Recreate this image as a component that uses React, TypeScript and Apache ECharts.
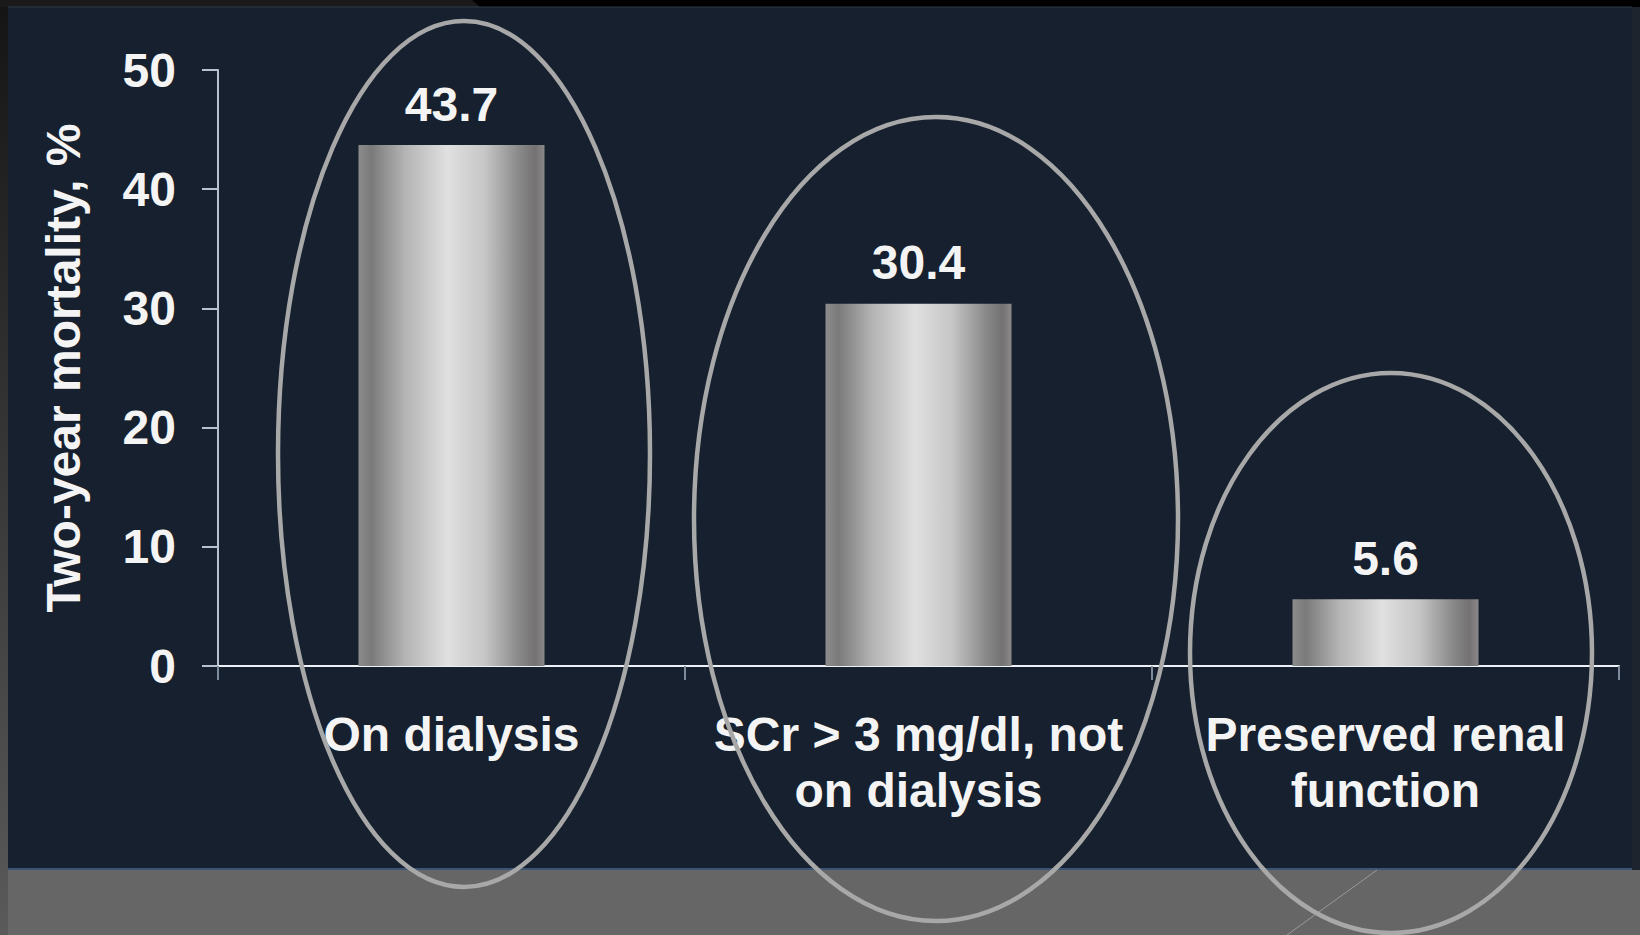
import React, { useEffect, useRef } from "react";
import * as echarts from "echarts";

const categories = ["On dialysis", "SCr > 3 mg/dl, not\non dialysis", "Preserved renal\nfunction"];
const mortality = [43.7, 30.4, 5.6];
const yTicks = { min: 0, max: 50, interval: 10 };
const yAxisTitle = "Two-year mortality, %";

// annotation ellipses (pixel geometry): cx, cy, rx, ry
const ellipses = [
  [464, 454, 186, 433],
  [936, 519, 242, 402],
  [1391, 653, 201, 280],
];

const FONT = "'Liberation Sans', Arial, sans-serif";

export default function App() {
  const ref = useRef<HTMLDivElement>(null);
  useEffect(() => {
    document.body.style.margin = "0";
    const chart = echarts.init(ref.current!, null, { renderer: "svg" });
    const barGradient = new echarts.graphic.LinearGradient(0, 0, 1, 0, [
      { offset: 0, color: "#8c8c8c" },
      { offset: 0.07, color: "#7a7a7a" },
      { offset: 0.25, color: "#b4b4b4" },
      { offset: 0.48, color: "#e0e0e0" },
      { offset: 0.68, color: "#c6c6c6" },
      { offset: 0.86, color: "#8a8a8a" },
      { offset: 0.95, color: "#747272" },
      { offset: 1, color: "#8a8888" },
    ]);
    chart.setOption({
      animation: false,
      backgroundColor: "#666666",
      graphic: [
        { type: "rect", z: -20, shape: { x: 0, y: 0, width: 1640, height: 7 }, style: { fill: "#000000" } },
        { type: "polygon", z: -19, shape: { points: [[0, 0], [472, 0], [480, 7], [0, 7]] }, style: { fill: "#1a1a1a" } },
        {
          type: "rect", z: -20, shape: { x: 0, y: 7, width: 8, height: 928 },
          style: { fill: new echarts.graphic.LinearGradient(0, 0, 0, 1, [
            { offset: 0, color: "#151515" }, { offset: 1, color: "#5a5a5a" },
          ]) },
        },
        { type: "rect", z: -20, shape: { x: 8, y: 7, width: 1624, height: 863 }, style: { fill: "#16202e" } },
        { type: "rect", z: -20, shape: { x: 1632, y: 7, width: 8, height: 863 }, style: { fill: "#1d242d" } },
        { type: "line", z: -19, shape: { x1: 8, y1: 869, x2: 1632, y2: 869 }, style: { stroke: "#3c5577", lineWidth: 2 } },
        { type: "line", z: -19, shape: { x1: 8, y1: 7, x2: 1632, y2: 7 }, style: { stroke: "#2c3a4c", lineWidth: 1 } },
        { type: "line", z: -19, shape: { x1: 1377, y1: 870, x2: 1287, y2: 935 }, style: { stroke: "#9a9a9a", lineWidth: 1 } },
        ...ellipses.map(([cx, cy, rx, ry]) => ({
          type: "ellipse",
          z: 100,
          shape: { cx, cy, rx, ry },
          style: { fill: "none", stroke: "#a8a8a8", lineWidth: 4.5 },
        })),
      ],
      grid: { left: 218, right: 21, top: 70, bottom: 269, containLabel: false },
      xAxis: {
        type: "category",
        data: categories,
        axisLine: { lineStyle: { color: "#eef2f6", width: 2 } },
        axisTick: { show: true, length: 14, lineStyle: { color: "#7d8b9c", width: 2 } },
        axisLabel: {
          interval: 0,
          margin: 40,
          color: "#f4f4f4",
          fontSize: 48,
          fontWeight: "bold",
          fontFamily: FONT,
          lineHeight: 56,
        },
      },
      yAxis: {
        type: "value",
        min: yTicks.min,
        max: yTicks.max,
        interval: yTicks.interval,
        name: yAxisTitle,
        nameLocation: "middle",
        nameRotate: 90,
        nameGap: 131,
        nameTextStyle: { color: "#f4f4f4", fontSize: 48, fontWeight: "bold", fontFamily: FONT },
        axisLine: { show: true, lineStyle: { color: "#b8c2ce", width: 2 } },
        axisTick: { show: true, length: 16, lineStyle: { color: "#b8c2ce", width: 2 } },
        splitLine: { show: false },
        axisLabel: {
          margin: 42,
          color: "#f4f4f4",
          fontSize: 48,
          fontWeight: "bold",
          fontFamily: FONT,
        },
      },
      series: [
        {
          type: "bar",
          data: mortality,
          barWidth: 186,
          itemStyle: { color: barGradient },
          label: {
            show: true,
            position: "top",
            distance: 17,
            color: "#f4f4f4",
            fontSize: 48,
            fontWeight: "bold",
            fontFamily: FONT,
          },
        },
      ],
    });
    return () => chart.dispose();
  }, []);
  return <div ref={ref} style={{ width: 1640, height: 935 }} />;
}
